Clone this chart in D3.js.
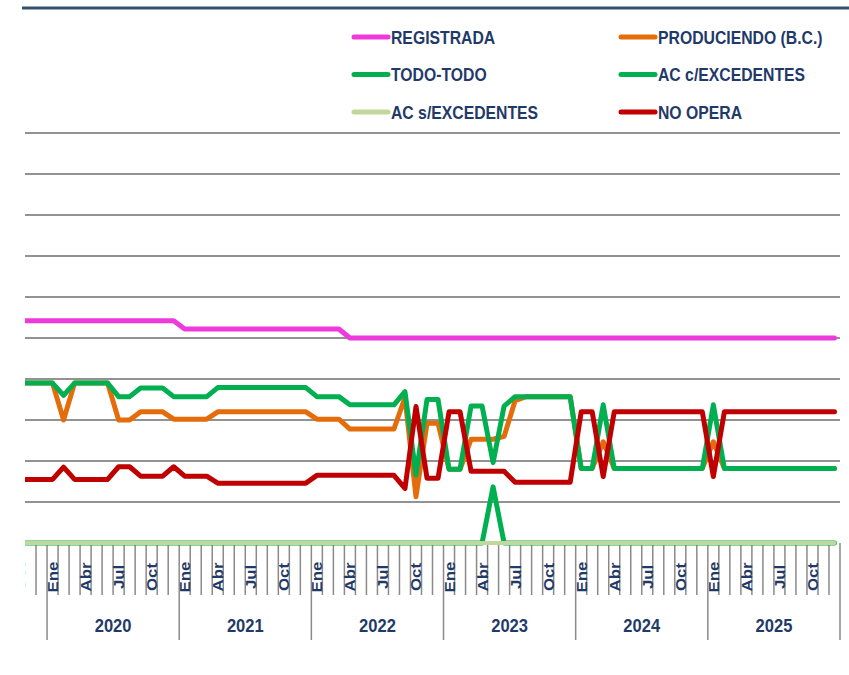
<!DOCTYPE html>
<html>
<head>
<meta charset="utf-8">
<script src="https://cdn.jsdelivr.net/npm/d3@7"></script>
<style>
html, body { margin: 0; padding: 0; background: #fff; }
svg { display: block; }
</style>
</head>
<body>
<div id="chart"></div>
<script>
// categories: Oct 2019 (clipped at the left edge) .. Dic 2025
var years = ["2019", "2020", "2021", "2022", "2023", "2024", "2025"];
var monthNames = ["Ene", "Feb", "Mar", "Abr", "May", "Jun", "Jul", "Ago", "Sep", "Oct", "Nov", "Dic"];
var shownMonths = ["Ene", "Abr", "Jul", "Oct"];
var firstMonth = 9; // Oct of the first year

var seriesNames = ["REGISTRADA", "PRODUCIENDO (B.C.)", "TODO-TODO", "AC c/EXCEDENTES", "AC s/EXCEDENTES", "NO OPERA"];

var registrada = [
  5.42, 5.42, 5.42,
  5.42, 5.42, 5.42, 5.42, 5.42, 5.42, 5.42, 5.42, 5.42, 5.42, 5.42, 5.42,
  5.22, 5.22, 5.22, 5.22, 5.22, 5.22, 5.22, 5.22, 5.22, 5.22, 5.22, 5.22,
  5.22, 5.22, 5.22, 5.0, 5.0, 5.0, 5.0, 5.0, 5.0, 5.0, 5.0, 5.0,
  5.0, 5.0, 5.0, 5.0, 5.0, 5.0, 5.0, 5.0, 5.0, 5.0, 5.0, 5.0,
  5.0, 5.0, 5.0, 5.0, 5.0, 5.0, 5.0, 5.0, 5.0, 5.0, 5.0, 5.0,
  5.0, 5.0, 5.0, 5.0, 5.0, 5.0, 5.0, 5.0, 5.0, 5.0, 5.0, 5.0
];
var produciendo = [
  3.9, 3.9, 3.9,
  3.9, 3.0, 3.9, 3.9, 3.9, 3.9, 3.0, 3.0, 3.2, 3.2, 3.2, 3.02,
  3.02, 3.02, 3.02, 3.2, 3.2, 3.2, 3.2, 3.2, 3.2, 3.2, 3.2, 3.2,
  3.02, 3.02, 3.02, 2.78, 2.78, 2.78, 2.78, 2.78, 3.55, 1.13, 2.92, 2.92,
  1.8, 1.8, 2.53, 2.53, 2.53, 2.6, 3.47, 3.57, 3.57, 3.57, 3.57, 3.57,
  1.82, 1.82, 2.47, 1.82, 1.82, 1.82, 1.82, 1.82, 1.82, 1.82, 1.82, 1.82,
  2.47, 1.82, 1.82, 1.82, 1.82, 1.82, 1.82, 1.82, 1.82, 1.82, 1.82, 1.82
];
var todoTodo = [
  3.9, 3.9, 3.9,
  3.9, 3.6, 3.9, 3.9, 3.9, 3.9, 3.57, 3.57, 3.78, 3.78, 3.78, 3.57,
  3.57, 3.57, 3.57, 3.79, 3.79, 3.79, 3.79, 3.79, 3.79, 3.79, 3.79, 3.79,
  3.57, 3.57, 3.57, 3.37, 3.37, 3.37, 3.37, 3.37, 3.69, 1.66, 3.5, 3.5,
  1.8, 1.8, 3.34, 3.34, 1.96, 3.34, 3.57, 3.57, 3.57, 3.57, 3.57, 3.57,
  1.82, 1.82, 3.37, 1.82, 1.82, 1.82, 1.82, 1.82, 1.82, 1.82, 1.82, 1.82,
  3.37, 1.82, 1.82, 1.82, 1.82, 1.82, 1.82, 1.82, 1.82, 1.82, 1.82, 1.82
];
var acConExc = [
  0, 0, 0,
  0, 0, 0, 0, 0, 0, 0, 0, 0, 0, 0, 0,
  0, 0, 0, 0, 0, 0, 0, 0, 0, 0, 0, 0,
  0, 0, 0, 0, 0, 0, 0, 0, 0, 0, 0, 0,
  0, 0, 0, 0, 1.37, 0, 0, 0, 0, 0, 0, 0,
  0, 0, 0, 0, 0, 0, 0, 0, 0, 0, 0, 0,
  0, 0, 0, 0, 0, 0, 0, 0, 0, 0, 0, 0
];
var acSinExc = [
  0, 0, 0,
  0, 0, 0, 0, 0, 0, 0, 0, 0, 0, 0, 0,
  0, 0, 0, 0, 0, 0, 0, 0, 0, 0, 0, 0,
  0, 0, 0, 0, 0, 0, 0, 0, 0, 0, 0, 0,
  0, 0, 0, 0, 0, 0, 0, 0, 0, 0, 0, 0,
  0, 0, 0, 0, 0, 0, 0, 0, 0, 0, 0, 0,
  0, 0, 0, 0, 0, 0, 0, 0, 0, 0, 0, 0
];
var noOpera = [
  1.55, 1.55, 1.55,
  1.55, 1.85, 1.55, 1.55, 1.55, 1.55, 1.86, 1.86, 1.63, 1.63, 1.63, 1.86,
  1.63, 1.63, 1.63, 1.46, 1.46, 1.46, 1.46, 1.46, 1.46, 1.46, 1.46, 1.46,
  1.65, 1.65, 1.65, 1.65, 1.65, 1.65, 1.65, 1.65, 1.33, 3.33, 1.58, 1.58,
  3.2, 3.2, 1.75, 1.75, 1.75, 1.75, 1.48, 1.48, 1.48, 1.48, 1.48, 1.48,
  3.2, 3.2, 1.62, 3.2, 3.2, 3.2, 3.2, 3.2, 3.2, 3.2, 3.2, 3.2,
  1.62, 3.2, 3.2, 3.2, 3.2, 3.2, 3.2, 3.2, 3.2, 3.2, 3.2, 3.2
];
var yTicks = [1, 2, 3, 4, 5, 6, 7, 8, 9, 10];

var seriesValues = [registrada, produciendo, todoTodo, acConExc, acSinExc, noOpera];
var seriesColors = ["#EE3ADB", "#E46C0A", "#00B050", "#00B050", "#C3D69B", "#C00000"];
var textColor = "#1F3A68";

(function() {
    var W = 849, H = 675, left = 25, right = 840;
    var months = seriesValues[0].map(function(d, i) {
        var m = firstMonth + i;
        return { i: i, name: monthNames[m % 12], year: years[Math.floor(m / 12)] };
    });

    var svg = d3.select("#chart").append("svg").attr("width", W).attr("height", H);
    svg.append("defs").append("clipPath").attr("id", "clip")
        .append("rect").attr("x", left).attr("y", 0).attr("width", W - left).attr("height", H);

    // one month = 11px, the first month falls outside the visible area
    var x = d3.scaleBand().domain(months.map(function(d) { return d.i; })).range([14, right]).padding(0);
    var y = d3.scaleLinear().domain([0, 10]).range([543, 133]);
    var step = x.step();

    // top rule
    svg.append("line").attr("x1", 22).attr("x2", W).attr("y1", 8).attr("y2", 8)
        .attr("stroke", "#34506E").attr("stroke-width", 3);

    // gridlines
    svg.append("g").selectAll("line").data(yTicks).enter().append("line")
        .attr("x1", left).attr("x2", right)
        .attr("y1", function(d) { return y(d); }).attr("y2", function(d) { return y(d); })
        .attr("stroke", "#929292").attr("stroke-width", 2);

    // category axis: separators between months, longer ones between years
    var bounds = d3.range(2, months.length + 1);
    svg.append("g").selectAll("line").data(bounds).enter().append("line")
        .attr("x1", function(k) { return x(0) + k * step; })
        .attr("x2", function(k) { return x(0) + k * step; })
        .attr("y1", y(0))
        .attr("y2", function(k) {
            var isYear = k === months.length || (months[k] && months[k].name === "Ene");
            return isYear ? 640 : 595;
        })
        .attr("stroke", "#8a8a8a").attr("stroke-width", 1.5);

    svg.append("g").attr("clip-path", "url(#clip)").selectAll("text")
        .data(months.filter(function(d) { return shownMonths.indexOf(d.name) >= 0; }))
        .enter().append("text")
        .attr("transform", function(d) { return "translate(" + (x(d.i) + step / 2 + 0.5) + ",577) rotate(-90) scale(1.2,1)"; })
        .attr("text-anchor", "middle").attr("dominant-baseline", "central")
        .style("font-family", "'Liberation Sans', Arial, sans-serif").style("font-weight", "bold")
        .style("font-size", "14px").attr("fill", textColor)
        .text(function(d) { return d.name; });

    var fullYears = years.filter(function(yr) {
        return months.filter(function(d) { return d.year === yr; }).length === 12;
    });
    svg.append("g").selectAll("text").data(fullYears).enter().append("text")
        .attr("transform", function(yr) {
            var ms = months.filter(function(d) { return d.year === yr; });
            var cx = (x(ms[0].i) + x(ms[ms.length - 1].i) + step) / 2;
            return "translate(" + cx + ",632) scale(0.92,1)";
        })
        .attr("text-anchor", "middle")
        .style("font-family", "'Liberation Sans', Arial, sans-serif").style("font-weight", "bold")
        .style("font-size", "18px").attr("fill", textColor)
        .text(function(yr) { return yr; });

    // series
    var line = d3.line()
        .x(function(d, i) { return x(i) + step / 2; })
        .y(function(d) { return y(d); });
    svg.append("g").attr("clip-path", "url(#clip)").selectAll("path").data(seriesValues).enter().append("path")
        .attr("d", line)
        .attr("fill", "none")
        .attr("stroke", function(d, i) { return seriesColors[i]; })
        .attr("stroke-width", function(d, i) { return i === 4 ? 4 : 5; })
        .attr("stroke-linejoin", "round").attr("stroke-linecap", "round");

    // legend
    var leg = svg.append("g").selectAll("g").data(seriesNames).enter().append("g")
        .attr("transform", function(d, i) {
            return "translate(" + (i % 2 ? 619 : 352) + "," + (37 + Math.floor(i / 2) * 37.5) + ")";
        });
    leg.append("line").attr("x1", 2).attr("x2", 36).attr("y1", 0).attr("y2", 0)
        .attr("stroke", function(d, i) { return seriesColors[i]; })
        .attr("stroke-width", 5).attr("stroke-linecap", "round");
    leg.append("text").attr("transform", "translate(39,0) scale(0.83,1)").attr("dominant-baseline", "central")
        .style("font-family", "'Liberation Sans', Arial, sans-serif")
        .style("font-weight", "bold").style("font-size", "19px").attr("fill", textColor)
        .text(function(d) { return d; });
})();
</script>
</body>
</html>
